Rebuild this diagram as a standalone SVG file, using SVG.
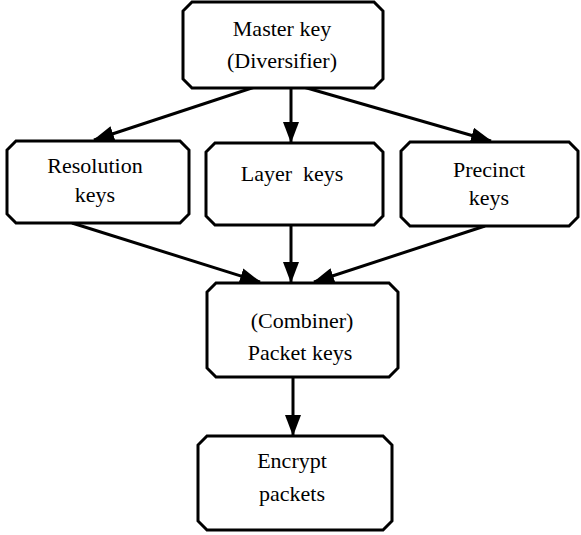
<svg xmlns="http://www.w3.org/2000/svg" width="581" height="535" viewBox="0 0 581 535">
  <style>
    .box { fill: #fff; stroke: #000; stroke-width: 3; stroke-linejoin: miter; }
    .lbl { font-family: 'Liberation Serif', 'Times New Roman', serif; font-size: 22px; fill: #000; text-anchor: middle; }
    .edge { fill: none; stroke: #000; stroke-width: 3; marker-end: url(#arrow); }
  </style>
  <defs>
    <!-- solid triangular arrowhead, sized in user units -->
    <marker id="arrow" markerUnits="userSpaceOnUse" markerWidth="21" markerHeight="16" viewBox="0 0 21 16" refX="20" refY="8" orient="auto">
      <path d="M0,0 L21,8 L0,16 Z" fill="#000"/>
    </marker>
  </defs>
  <rect width="581" height="535" fill="#fff"/>

  <g id="edges">
    <path class="edge" d="M258,86 L94,140"/>
    <path class="edge" d="M291,88 L291,142"/>
    <path class="edge" d="M300,86 L491,141"/>
    <path class="edge" d="M72,223 L260,282"/>
    <path class="edge" d="M291,225 L291,282"/>
    <path class="edge" d="M485,226 L314,282"/>
    <path class="edge" d="M293,377 L293,435"/>
  </g>

  <g id="master">
    <path class="box" d="M192,2 H374 L383,11 V79 L374,88 H192 L183,79 V11 Z"/>
    <text class="lbl" x="282" y="36">Master key</text>
    <text class="lbl" x="282" y="68">(Diversifier)</text>
  </g>

  <g id="resolution">
    <path class="box" d="M16,141 H180 L189,150 V214 L180,223 H16 L7,214 V150 Z"/>
    <text class="lbl" x="95" y="173">Resolution</text>
    <text class="lbl" x="95" y="202">keys</text>
  </g>

  <g id="layer">
    <path class="box" d="M215,143 H374 L383,152 V216 L374,225 H215 L206,216 V152 Z"/>
    <text class="lbl" x="292" y="181" xml:space="preserve">Layer  keys</text>
  </g>

  <g id="precinct">
    <path class="box" d="M410,142 H569 L578,151 V217 L569,226 H410 L401,217 V151 Z"/>
    <text class="lbl" x="489" y="177">Precinct</text>
    <text class="lbl" x="489" y="205">keys</text>
  </g>

  <g id="combiner">
    <path class="box" d="M216,283 H389 L398,292 V368 L389,377 H216 L207,368 V292 Z"/>
    <text class="lbl" x="302" y="328">(Combiner)</text>
    <text class="lbl" x="300" y="360">Packet keys</text>
  </g>

  <g id="encrypt">
    <path class="box" d="M207,436 H383 L392,445 V521 L383,530 H207 L198,521 V445 Z"/>
    <text class="lbl" x="292" y="468">Encrypt</text>
    <text class="lbl" x="292" y="501">packets</text>
  </g>
</svg>
